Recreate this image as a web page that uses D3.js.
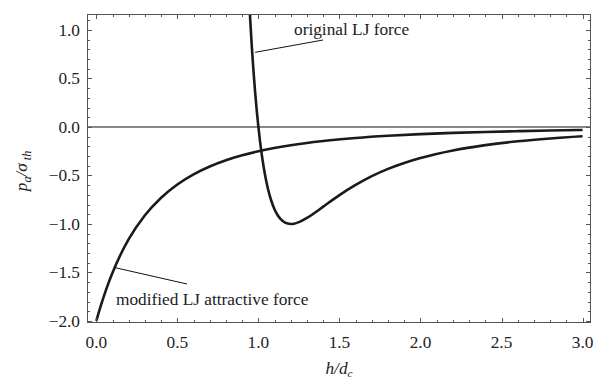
<html>
  <head>
    <script src="https://cdn.jsdelivr.net/npm/d3@7"></script>
  </head>
  <body>
    <div id="chart"></div>
    <script>
      // original LJ force
      const hOrig = [
        0.94, 0.95, 0.96, 0.97, 0.98, 0.99, 1.0, 1.01, 1.02, 1.03, 1.04, 1.05,
        1.06, 1.08, 1.1, 1.12, 1.15, 1.18, 1.2, 1.22, 1.25, 1.3, 1.35, 1.4, 1.5,
        1.6, 1.7, 1.8, 1.9, 2.0, 2.2, 2.4, 2.6, 2.8, 3.0,
      ];
      const pOrig = [
        1.406, 1.092, 0.815, 0.571, 0.356, 0.166, 0.0, -0.146, -0.274, -0.386,
        -0.484, -0.57, -0.644, -0.763, -0.85, -0.912, -0.97, -0.996, -1.0,
        -0.997, -0.981, -0.938, -0.882, -0.821, -0.702, -0.597, -0.507, -0.432,
        -0.371, -0.32, -0.242, -0.187, -0.147, -0.118, -0.096,
      ];

      // modified LJ attractive force
      const hMod = [
        0.0, 0.025, 0.05, 0.075, 0.1, 0.15, 0.2, 0.3, 0.4, 0.5, 0.6, 0.7, 0.8,
        0.9, 1.0, 1.2, 1.4, 1.6, 1.8, 2.0, 2.2, 2.4, 2.6, 2.8, 3.0,
      ];
      const pMod = [
        -2.0, -1.857, -1.728, -1.61, -1.503, -1.315, -1.157, -0.91, -0.729,
        -0.593, -0.488, -0.407, -0.343, -0.292, -0.25, -0.188, -0.145, -0.114,
        -0.091, -0.074, -0.061, -0.051, -0.043, -0.036, -0.031,
      ];

      const xTicks = [0, 0.5, 1.0, 1.5, 2.0, 2.5, 3.0];
      const yTicks = [-2.0, -1.5, -1.0, -0.5, 0.0, 0.5, 1.0];

      const w = 599;
      const h = 380;
      const frameLeft = 87;
      const frameRight = 591;
      const frameTop = 14;
      const frameBottom = 323;
      const serif = "'Liberation Serif'";
      const k = 0.865; // text is set at 20px and scaled down to ~17px

      d3.select("body").style("margin", "0px").style("background", "white");

      const xScale = d3
        .scaleLinear()
        .domain([-0.0574, 3.052])
        .range([frameLeft, frameRight]);
      const yScale = d3
        .scaleLinear()
        .domain([-2.021, 1.165])
        .range([frameBottom, frameTop]);

      const svg = d3
        .select("#chart")
        .append("svg")
        .attr("width", w)
        .attr("height", h)
        .style("display", "block");

      const addText = (x, y, extra = "") =>
        svg
          .append("text")
          .attr("font-family", serif)
          .attr("font-size", 20)
          .attr("fill", "#222")
          .attr("transform", `translate(${x},${y}) ${extra} scale(${k})`);

      svg
        .append("clipPath")
        .attr("id", "plotClip")
        .append("rect")
        .attr("x", frameLeft)
        .attr("y", frameTop)
        .attr("width", frameRight - frameLeft)
        .attr("height", frameBottom - frameTop);

      // zero line
      svg
        .append("line")
        .attr("x1", frameLeft)
        .attr("x2", frameRight)
        .attr("y1", yScale(0))
        .attr("y2", yScale(0))
        .attr("stroke", "#111")
        .attr("stroke-width", 1);

      const line = d3
        .line()
        .x((d) => xScale(d[0]))
        .y((d) => yScale(d[1]))
        .curve(d3.curveMonotoneX);

      const curves = [d3.zip(hOrig, pOrig), d3.zip(hMod, pMod)];

      svg
        .append("g")
        .attr("clip-path", "url(#plotClip)")
        .selectAll("path")
        .data(curves)
        .enter()
        .append("path")
        .attr("d", line)
        .attr("fill", "none")
        .attr("stroke", "#1a1a1a")
        .attr("stroke-width", 2.6);

      // frame with inward ticks on all sides
      const xMinor = d3.range(0, 31).map((i) => i / 10);
      const yMinor = d3.range(-20, 12).map((i) => i / 10);
      const isMajor = (v) => Math.abs(v * 2 - Math.round(v * 2)) < 1e-6;

      const frame = svg
        .append("g")
        .attr("stroke", "#555")
        .attr("stroke-width", 1);
      frame
        .append("rect")
        .attr("x", frameLeft + 0.5)
        .attr("y", frameTop + 0.5)
        .attr("width", frameRight - frameLeft - 1)
        .attr("height", frameBottom - frameTop - 1)
        .attr("fill", "none");

      xMinor.forEach((v) => {
        const x = Math.round(xScale(v)) + 0.5;
        const len = isMajor(v) ? 5 : 3;
        frame.append("line").attr("x1", x).attr("x2", x)
          .attr("y1", frameBottom).attr("y2", frameBottom - len);
        frame.append("line").attr("x1", x).attr("x2", x)
          .attr("y1", frameTop).attr("y2", frameTop + len);
      });
      yMinor.forEach((v) => {
        const y = Math.round(yScale(v)) + 0.5;
        const len = isMajor(v) ? 5 : 3;
        frame.append("line").attr("x1", frameLeft).attr("x2", frameLeft + len)
          .attr("y1", y).attr("y2", y);
        frame.append("line").attr("x1", frameRight).attr("x2", frameRight - len)
          .attr("y1", y).attr("y2", y);
      });

      const fmt = d3.format(".1f");

      xTicks.forEach((d) => {
        addText(xScale(d), 348).attr("text-anchor", "middle").text(fmt(d));
      });
      yTicks.forEach((d) => {
        addText(80, yScale(d) + 6).attr("text-anchor", "end").text(fmt(d));
      });

      // axis titles
      const xTitle = addText((frameLeft + frameRight) / 2, 374)
        .attr("font-style", "italic")
        .attr("text-anchor", "middle");
      xTitle.append("tspan").text("h/d");
      xTitle.append("tspan").attr("font-size", 13).attr("dy", 3.5).text("c");

      const yTitle = addText(27, 171, "rotate(-90)")
        .attr("font-style", "italic")
        .attr("text-anchor", "middle");
      yTitle.append("tspan").text("p");
      yTitle.append("tspan").attr("font-size", 14).attr("dy", 4.5).text("a");
      yTitle.append("tspan").attr("dy", -4.5).text("/σ");
      yTitle.append("tspan").attr("font-size", 14).attr("dy", 4.5).text(" th");

      // annotations
      const notes = [
        { text: "original LJ force", at: [0.98, 0.77], tx: 294, ty: 35, lx: 323, ly: 40 },
        { text: "modified LJ attractive force", at: [0.115, -1.45], tx: 116, ty: 305, lx: 187, ly: 284 },
      ];
      notes.forEach((n) => {
        svg
          .append("line")
          .attr("x1", xScale(n.at[0]))
          .attr("y1", yScale(n.at[1]))
          .attr("x2", n.lx)
          .attr("y2", n.ly)
          .attr("stroke", "#111")
          .attr("stroke-width", 1);
        addText(n.tx, n.ty).text(n.text);
      });
    </script>
  </body>
</html>
